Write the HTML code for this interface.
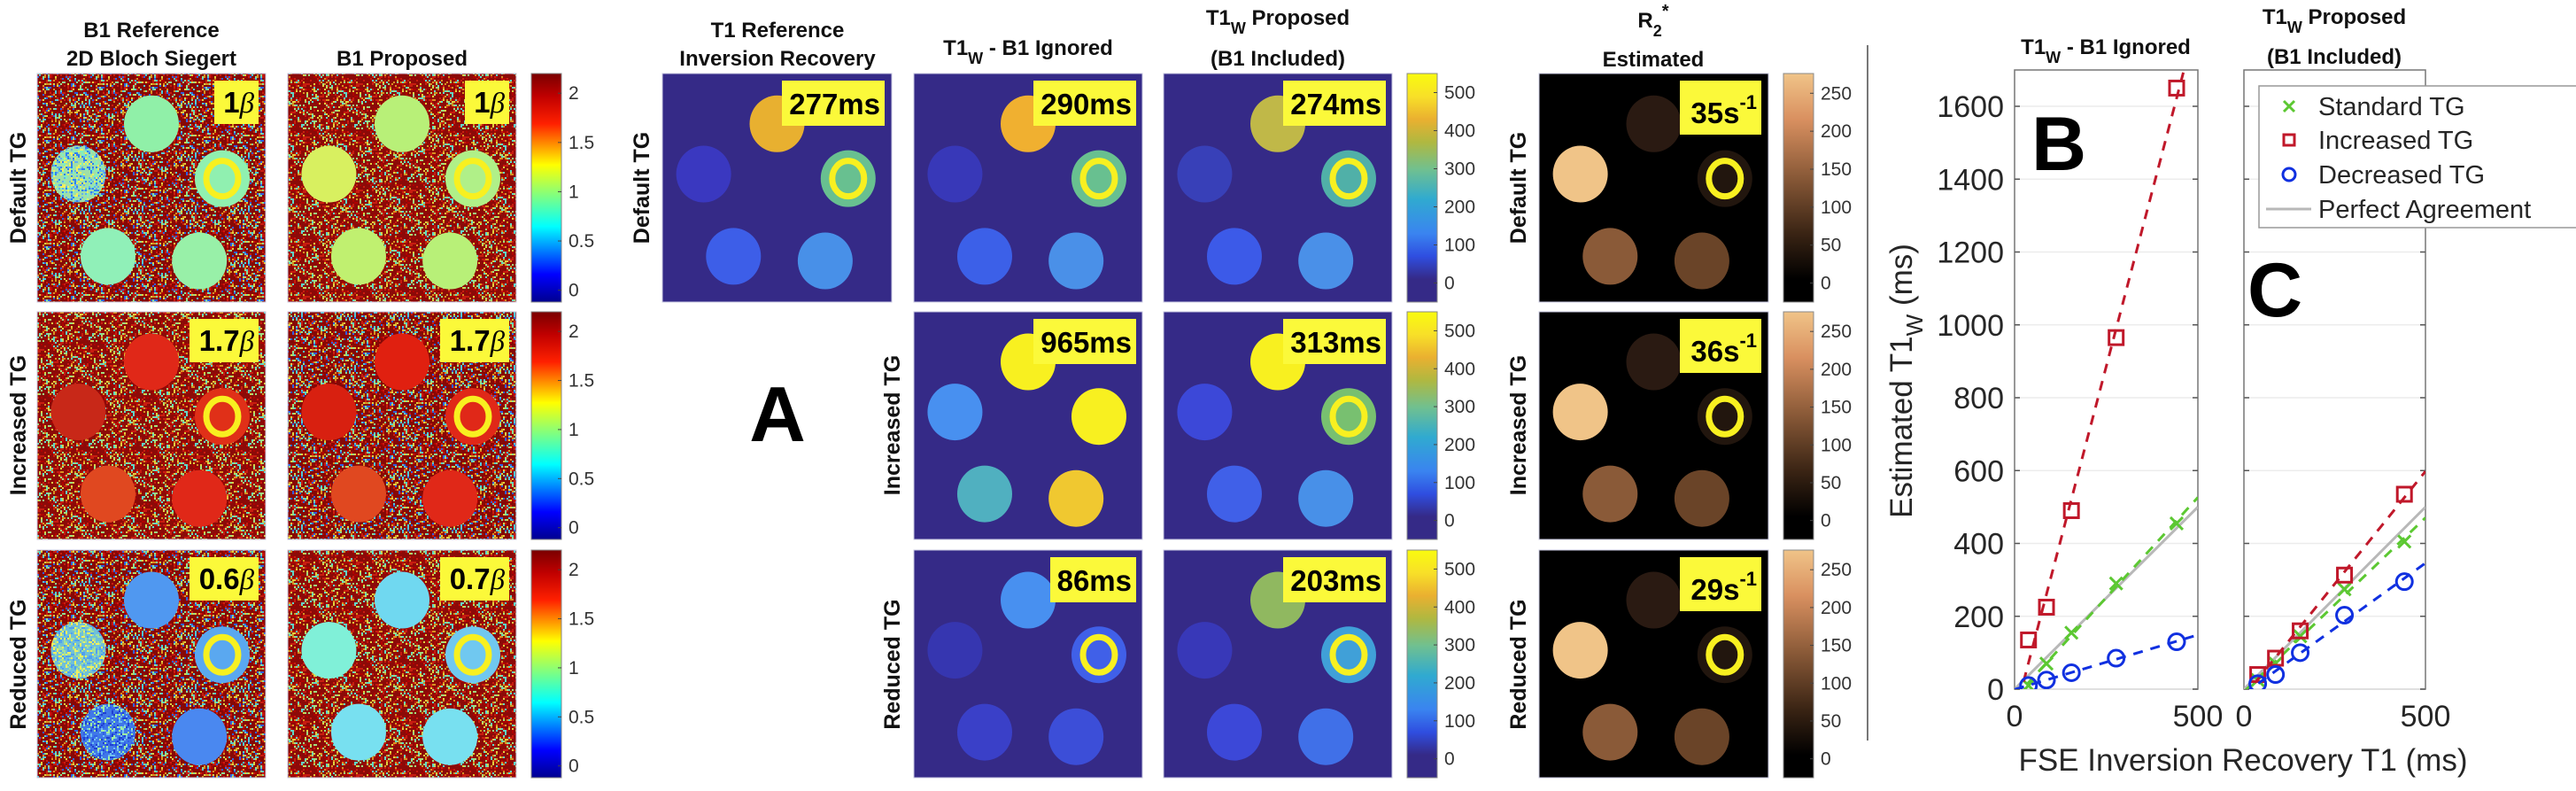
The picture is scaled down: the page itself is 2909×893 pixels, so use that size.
<!DOCTYPE html>
<html><head><meta charset="utf-8">
<style>
html,body{margin:0;padding:0;background:#fff;}
#fig{position:absolute;left:0;top:0;width:2909px;height:893px;}
svg text{font-family:"Liberation Sans",sans-serif;}
</style></head>
<body>
<svg id="fig" xmlns="http://www.w3.org/2000/svg" width="2909" height="893" viewBox="0 0 2909 893">
<defs id="defs">
 <linearGradient id="jet" x1="0" y1="1" x2="0" y2="0">
  <stop offset="0" stop-color="#00008f"/><stop offset="0.12" stop-color="#0000ff"/><stop offset="0.33" stop-color="#00ffff"/><stop offset="0.5" stop-color="#a0ff60"/><stop offset="0.6" stop-color="#ffff00"/><stop offset="0.78" stop-color="#ff2000"/><stop offset="0.9" stop-color="#c00000"/><stop offset="1" stop-color="#7a0000"/>
 </linearGradient>
 <linearGradient id="parula" x1="0" y1="1" x2="0" y2="0">
  <stop offset="0" stop-color="#352a87"/><stop offset="0.1" stop-color="#352a87"/><stop offset="0.2" stop-color="#2f4ee0"/><stop offset="0.3" stop-color="#3a84f0"/><stop offset="0.45" stop-color="#30aad0"/><stop offset="0.58" stop-color="#70c090"/><stop offset="0.7" stop-color="#b0b840"/><stop offset="0.8" stop-color="#eab030"/><stop offset="0.9" stop-color="#f8e028"/><stop offset="1" stop-color="#f9fb0e"/>
 </linearGradient>
 <linearGradient id="copper" x1="0" y1="1" x2="0" y2="0">
  <stop offset="0" stop-color="#000"/><stop offset="0.1" stop-color="#000"/><stop offset="0.3" stop-color="#3a2414"/><stop offset="0.55" stop-color="#8a5a38"/><stop offset="0.8" stop-color="#d99060"/><stop offset="1" stop-color="#f0c488"/>
 </linearGradient>
 <clipPath id="clipB"><rect x="2275" y="79" width="207" height="699"/></clipPath>
 <clipPath id="clipC"><rect x="2534" y="79" width="205" height="699"/></clipPath>
</defs>
<g id="layer"></g>
</svg>
<script>
// ---- chart data (panels B and C) ----
const refT1 = [38, 87, 155, 277, 442];
const ignoredStandard = [10, 70, 155, 290, 455];
const ignoredIncreased = [135, 225, 490, 965, 1650];
const ignoredDecreased = [10, 25, 45, 85, 130];
const proposedStandard = [25, 70, 145, 274, 405];
const proposedIncreased = [40, 85, 160, 313, 535];
const proposedDecreased = [15, 40, 100, 203, 295];
const yTicks = [0, 200, 400, 600, 800, 1000, 1200, 1400, 1600];
const xTicks = [0, 500];
const legendLabels = ["Standard TG", "Increased TG", "Decreased TG", "Perfect Agreement"];
// image panel labels
const b1RefLabels = ["1", "1.7", "0.6"];
const b1PropLabels = ["1", "1.7", "0.7"];
const t1Labels = ["277ms", "290ms", "965ms", "86ms", "274ms", "313ms", "203ms"];
const r2Labels = ["35", "36", "29"];
const jetTicks = ["2", "1.5", "1", "0.5", "0"];
const parulaTicks = ["500", "400", "300", "200", "100", "0"];
const copperTicks = ["250", "200", "150", "100", "50", "0"];

const NS = "http://www.w3.org/2000/svg";
const defs = document.getElementById('defs');
const L = document.getElementById('layer');
function mk(tag, attrs, parent) {
  const e = document.createElementNS(NS, tag);
  for (const k in attrs) e.setAttribute(k, attrs[k]);
  (parent || L).appendChild(e);
  return e;
}
function txt(x, y, s, size, weight, anchor, parent) {
  const t = mk('text', {x: x, y: y, 'font-size': size, 'font-weight': weight || 'normal', 'text-anchor': anchor || 'start', fill: '#111'}, parent);
  t.textContent = s;
  return t;
}

// seeded noise patterns for B1 maps (texture only)
let seed = 12345;
function rnd() { seed = (seed * 1103515245 + 12345) % 2147483648; return seed / 2147483648; }
function noisePattern(id, base, pal, prob, c) {
  c = c || 2;
  const n = 30;
  const p = mk('pattern', {id: id, x: 0, y: 0, width: n * c, height: n * c, patternUnits: 'userSpaceOnUse'}, defs);
  mk('rect', {x: 0, y: 0, width: n * c, height: n * c, fill: base}, p);
  for (let i = 0; i < n; i++) for (let j = 0; j < n; j++) {
    if (rnd() < prob) mk('rect', {x: i * c, y: j * c, width: c, height: c, fill: pal[Math.floor(rnd() * pal.length)]}, p);
  }
}
noisePattern('nz1', '#860806', ['#c81c10', '#c81c10', '#e0d040', '#d89020', '#50c8d8', '#90e090', '#b00000', '#3060e0'], 0.45);
noisePattern('nz2', '#8c0a08', ['#c81c10', '#c81c10', '#e0d040', '#d89020', '#60d8c8', '#b00000', '#a0e080'], 0.42);
noisePattern('nzc1', '#a0e0a8', ['#60b0f0', '#f0f060', '#80f0c0', '#3080f0'], 0.5);
noisePattern('nzc2', '#4078e8', ['#2040d0', '#70c0f0', '#a0f0a0', '#3060e8'], 0.5);
noisePattern('nzc3', '#70c0d8', ['#f0f060', '#50a0f0', '#a0e0a0'], 0.5);

// phantom geometry (relative to panel)
const spots = [[0.5, 0.22], [0.18, 0.44], [0.81, 0.46], [0.31, 0.80], [0.71, 0.82]];
function panel(x, y, w, h, bg, cols, ringIdx, ringFill, name) {
  const g = mk('g', {});
  
  
  mk('rect', {x: x, y: y, width: w, height: h, fill: bg, stroke: '#c8c8e0', 'stroke-width': 1}, g);
  spots.forEach((s, i) => {
    const cx = x + s[0] * w, cy = y + s[1] * h;
    mk('ellipse', {cx: cx, cy: cy, rx: 31, ry: 32, fill: cols[i]}, g);
    if (i === ringIdx) {
      mk('ellipse', {cx: cx, cy: cy, rx: 18, ry: 20, fill: 'none', stroke: '#f8f020', 'stroke-width': 7}, g);
    }
  });
  return g;
}
function labelBox(x1, y1, x2, y2, s, sup, beta, name) {
  const g = mk('g', {});
  
  
  mk('rect', {x: x1, y: y1, width: x2 - x1, height: y2 - y1, fill: '#fbf93a'}, g);
  const t = mk('text', {x: x2 - 5, y: y2 - 13, 'font-size': 33, 'font-weight': 'bold', 'text-anchor': 'end', fill: '#000'}, g);
  t.textContent = s;
  if (beta) { const b = mk('tspan', {'font-style': 'italic', 'font-weight': 'normal', 'font-family': 'Liberation Serif'}, t); b.textContent = 'β'; }
  if (sup) { const b = mk('tspan', {'font-size': 22, dy: -16}, t); b.textContent = sup; }
}
function colorbar(x, y, w, h, grad, ticks, vTop, vBot, vals, name) {
  const g = mk('g', {});
  
  
  mk('rect', {x: x, y: y, width: w, height: h, fill: 'url(#' + grad + ')', stroke: '#888', 'stroke-width': 1}, g);
  ticks.forEach((s, i) => {
    const v = vals[i];
    const ty = y + (vTop - v) / (vTop - vBot) * h;
    mk('line', {x1: x + w - 4, x2: x + w, y1: ty, y2: ty, stroke: '#444', 'stroke-width': 1}, g);
    const t = txt(x + w + 8, ty + 7, s, 21, 'normal', 'start', g);
    t.setAttribute('fill', '#333');
  });
}
function rowLabel(cx, cy, s, name) {
  const t = mk('text', {x: 0, y: 0, 'font-size': 25, 'font-weight': 'bold', 'text-anchor': 'middle', fill: '#111', transform: 'translate(' + cx + ',' + cy + ') rotate(-90)'});
  t.textContent = s;
  
  
}
const rows = [[83, 258], [352, 257], [621, 257]];

// ---------- B1 maps ----------
let t;
t = txt(171, 42, 'B1 Reference', 24, 'bold', 'middle');  
t = txt(171, 74, '2D Bloch Siegert', 24, 'bold', 'middle');  
t = txt(454, 74, 'B1 Proposed', 24, 'bold', 'middle');  
const b1RefCols = [
  ['#90f0a8', 'url(#nzc1)', '#90f0b0', '#90f0b8', '#98f0a8'],
  ['#e02818', '#c82818', '#e03018', '#e04820', '#e02818'],
  ['#5098f0', 'url(#nzc3)', '#5aa8f0', 'url(#nzc2)', '#4a88f0']];
const b1PropCols = [
  ['#b8f078', '#d8f060', '#b0f088', '#c0f070', '#b8f078'],
  ['#e02010', '#d82010', '#e02818', '#e04820', '#e02818'],
  ['#70d8f0', '#80f0d8', '#70c8f0', '#78e0f0', '#78e0f0']];
const b1Names = ['default', 'increased', 'reduced'];
rows.forEach((r, i) => {
  panel(42, r[0], 258, r[1], 'url(#nz' + (i % 2 + 1) + ')', b1RefCols[i], 2, '', 'b1-reference-map-' + b1Names[i]);
  panel(325, r[0], 258, r[1], 'url(#nz' + ((i + 1) % 2 + 1) + ')', b1PropCols[i], 2, '', 'b1-proposed-map-' + b1Names[i]);
  const w1 = b1RefLabels[i].length > 1 ? 214 : 242;
  const w2 = b1PropLabels[i].length > 1 ? 497 : 525;
  labelBox(w1, r[0] + 8, 292, r[0] + 57, b1RefLabels[i], '', true, 'b1-reference-value-' + b1Names[i]);
  labelBox(w2, r[0] + 8, 575, r[0] + 57, b1PropLabels[i], '', true, 'b1-proposed-value-' + b1Names[i]);
  colorbar(600, r[0], 34, r[1], 'jet', jetTicks, 2.2, -0.12, [2, 1.5, 1, 0.5, 0], 'b1-colorbar-' + b1Names[i]);
});
rowLabel(29, 212, 'Default TG', 'row-label-default-b1');
rowLabel(29, 480, 'Increased TG', 'row-label-increased-b1');
rowLabel(29, 750, 'Reduced TG', 'row-label-reduced-b1');

// ---------- T1 maps ----------
t = txt(878, 42, 'T1 Reference', 24, 'bold', 'middle');  
t = txt(878, 74, 'Inversion Recovery', 24, 'bold', 'middle');  
function t1wTitle(cx, y, rest, name) {
  const tt = mk('text', {x: cx, y: y, 'font-size': 24, 'font-weight': 'bold', 'text-anchor': 'middle', fill: '#111'});
  
  
  const a = mk('tspan', {}, tt); a.textContent = 'T1';
  const b = mk('tspan', {dy: 10, 'font-size': 18}, tt); b.textContent = 'W';
  const c = mk('tspan', {dy: -10}, tt); c.textContent = rest;
}
t1wTitle(1161, 62, ' - B1 Ignored', 't1w-ignored-title');
t1wTitle(1443, 28, ' Proposed', 't1w-proposed-title');
t = txt(1443, 74, '(B1 Included)', 24, 'bold', 'middle');  
const BG = '#352a87';
panel(748, 83, 259, 258, BG, ['#e8b030', '#3a38c0', '#68c090', '#3d5ee8', '#4890e8'], 2, '', 't1-reference-map');
labelBox(883, 91, 999, 142, t1Labels[0], '', false, 't1-reference-value');
const col2Cols = [
  ['#f0b030', '#3838b8', '#68c090', '#3c60e8', '#4a90e8'],
  ['#f8f020', '#4890f0', '#f8f020', '#50b0c0', '#f0c830'],
  ['#4890f0', '#3636b0', '#4060e8', '#3a40c8', '#3c4ed8']];
const col3Cols = [
  ['#c0b848', '#3840b8', '#50b0a8', '#3c5ae8', '#4a90e8'],
  ['#f8f020', '#3c48d8', '#78c070', '#4060e8', '#4890e8'],
  ['#90b860', '#3838b8', '#40a0d8', '#3c48d8', '#4070e8']];
const rowNames = ['default', 'increased', 'reduced'];
rows.forEach((r, i) => {
  panel(1032, r[0], 258, r[1], BG, col2Cols[i], i === 1 ? -1 : 2, '', 't1w-ignored-map-' + rowNames[i]);
  panel(1314, r[0], 258, r[1], BG, col3Cols[i], 2, '', 't1w-proposed-map-' + rowNames[i]);
  const l2 = t1Labels[1 + i], l3 = t1Labels[4 + i];
  labelBox(l2.length > 4 ? 1167 : 1186, r[0] + 8, 1283, r[0] + 59, l2, '', false, 't1w-ignored-value-' + rowNames[i]);
  labelBox(1449, r[0] + 8, 1565, r[0] + 59, l3, '', false, 't1w-proposed-value-' + rowNames[i]);
  colorbar(1589, r[0], 34, r[1], 'parula', parulaTicks, 550, -50, [500, 400, 300, 200, 100, 0], 't1-colorbar-' + rowNames[i]);
  panel(1738, r[0], 259, r[1], '#000', ['#2a1a12', '#f0c488', '#22160e', '#8a5a38', '#6a4428'], 2, '', 'r2-map-' + rowNames[i]);
  labelBox(1897, r[0] + 8, 1989, r[0] + 69, r2Labels[i] + 's', '-1', false, 'r2-value-' + rowNames[i]);
  colorbar(2014, r[0], 34, r[1], 'copper', copperTicks, 276, -25, [250, 200, 150, 100, 50, 0], 'r2-colorbar-' + rowNames[i]);
});
rowLabel(733, 212, 'Default TG', 'row-label-default-t1');
rowLabel(1016, 480, 'Increased TG', 'row-label-increased-t1');
rowLabel(1016, 750, 'Reduced TG', 'row-label-reduced-t1');
rowLabel(1723, 212, 'Default TG', 'row-label-default-r2');
rowLabel(1723, 480, 'Increased TG', 'row-label-increased-r2');
rowLabel(1723, 750, 'Reduced TG', 'row-label-reduced-r2');
t = txt(878, 498, 'A', 88, 'bold', 'middle');   t.setAttribute('fill', '#000');
// R2* title
t = mk('text', {x: 1867, y: 31, 'font-size': 24, 'font-weight': 'bold', 'text-anchor': 'middle', fill: '#111'});
 
{ const a = mk('tspan', {}, t); a.textContent = 'R'; const b = mk('tspan', {dy: 10, 'font-size': 18}, t); b.textContent = '2'; const c = mk('tspan', {dy: -22, 'font-size': 20}, t); c.textContent = '*'; }
t = txt(1867, 75, 'Estimated', 24, 'bold', 'middle');  
// separator
t = mk('line', {x1: 2109, x2: 2109, y1: 51, y2: 836, stroke: '#777', 'stroke-width': 2});
 

// ---------- scatter charts B and C ----------
const Y0 = 778, YPX = 82.25 / 200;
function yS(v) { return Y0 - v * YPX; }
function xSB(v) { return 2275 + v / 500 * 207; }
function xSC(v) { return 2534 + v / 500 * 205; }
function fit(xs, ys) {
  const n = xs.length; let sx = 0, sy = 0, sxx = 0, sxy = 0;
  for (let i = 0; i < n; i++) { sx += xs[i]; sy += ys[i]; sxx += xs[i] * xs[i]; sxy += xs[i] * ys[i]; }
  const m = (n * sxy - sx * sy) / (n * sxx - sx * sx); return [m, (sy - m * sx) / n];
}
const GREEN = '#5cc832', RED = '#c0182a', BLUE = '#1030e0';
function axes(xS, x0, x1, clip, name, showY) {
  const g = mk('g', {});
  
  
  mk('rect', {x: x0, y: 79, width: x1 - x0, height: Y0 - 79, fill: '#fff', stroke: '#777', 'stroke-width': 1.5}, g);
  yTicks.forEach(v => {
    const y = yS(v);
    mk('line', {x1: x0, x2: x1, y1: y, y2: y, stroke: '#ececec', 'stroke-width': 1.5}, g);
    mk('line', {x1: x0, x2: x0 + 6, y1: y, y2: y, stroke: '#555', 'stroke-width': 1.5}, g);
    mk('line', {x1: x1 - 6, x2: x1, y1: y, y2: y, stroke: '#555', 'stroke-width': 1.5}, g);
    if (showY) { const tt = txt(x0 - 12, y + 12, String(v), 34, 'normal', 'end', g); tt.setAttribute('fill', '#262626'); }
  });
  xTicks.forEach(v => {
    const tt = txt(xS(v), 820, String(v), 34, 'normal', 'middle', g); tt.setAttribute('fill', '#262626');
  });
  return g;
}
function series(xS, ys, color, marker, clip, name) {
  const g = mk('g', {'clip-path': 'url(#' + clip + ')'});
  
  
  const f = fit(refT1, ys);
  mk('line', {x1: xS(0), y1: yS(f[1]), x2: xS(500), y2: yS(f[1] + f[0] * 500), stroke: color, 'stroke-width': 3, 'stroke-dasharray': '11 9'}, g);
  refT1.forEach((xv, i) => {
    const cx = xS(xv), cy = yS(ys[i]);
    let m;
    if (marker === 'x') {
      m = mk('path', {d: 'M' + (cx - 7) + ' ' + (cy - 7) + 'L' + (cx + 7) + ' ' + (cy + 7) + 'M' + (cx - 7) + ' ' + (cy + 7) + 'L' + (cx + 7) + ' ' + (cy - 7), stroke: color, 'stroke-width': 3, fill: 'none'}, g);
    } else if (marker === 's') {
      m = mk('rect', {x: cx - 8, y: cy - 8, width: 16, height: 16, stroke: color, 'stroke-width': 3, fill: 'none'}, g);
    } else {
      m = mk('circle', {cx: cx, cy: cy, r: 9, stroke: color, 'stroke-width': 3, fill: 'none'}, g);
    }
    
    
  });
}
function identity(xS, clip, name) {
  const l = mk('line', {x1: xS(0), y1: yS(0), x2: xS(500), y2: yS(500), stroke: '#b8b8b8', 'stroke-width': 3, 'clip-path': 'url(#' + clip + ')'});
  
  
}
axes(xSB, 2275, 2482, 'clipB', 'axes-b', true);
identity(xSB, 'clipB', 'perfect-agreement-b');
series(xSB, ignoredStandard, GREEN, 'x', 'clipB', 'series-standard-b');
series(xSB, ignoredIncreased, RED, 's', 'clipB', 'series-increased-b');
series(xSB, ignoredDecreased, BLUE, 'o', 'clipB', 'series-decreased-b');
axes(xSC, 2534, 2739, 'clipC', 'axes-c', false);
identity(xSC, 'clipC', 'perfect-agreement-c');
series(xSC, proposedStandard, GREEN, 'x', 'clipC', 'series-standard-c');
series(xSC, proposedIncreased, RED, 's', 'clipC', 'series-increased-c');
series(xSC, proposedDecreased, BLUE, 'o', 'clipC', 'series-decreased-c');
t1wTitle(2378, 61, ' - B1 Ignored', 'chart-b-title');
t1wTitle(2636, 27, ' Proposed', 'chart-c-title');
t = txt(2636, 72, '(B1 Included)', 24, 'bold', 'middle');  
t = txt(2294, 192, 'B', 86, 'bold', 'start');  t.setAttribute('fill', '#000'); 
t = txt(2569, 357, 'C', 86, 'bold', 'middle');  t.setAttribute('fill', '#000'); 
// y label
t = mk('text', {x: 0, y: 0, 'font-size': 35, 'text-anchor': 'middle', fill: '#262626', transform: 'translate(2159,430) rotate(-90)'});
 
{ const a = mk('tspan', {}, t); a.textContent = 'Estimated T1'; const b = mk('tspan', {dy: 12, 'font-size': 26}, t); b.textContent = 'W'; const c = mk('tspan', {dy: -12}, t); c.textContent = ' (ms)'; }
t = txt(2533, 870, 'FSE Inversion Recovery T1 (ms)', 35, 'normal', 'middle'); t.setAttribute('fill', '#262626');
 
// legend
const lg = mk('g', {});


mk('rect', {x: 2551, y: 97, width: 400, height: 160, fill: '#fff', stroke: '#999', 'stroke-width': 1.5}, lg);
const lys = [120, 158, 197, 236];
legendLabels.forEach((s, i) => {
  const y = lys[i];
  if (i === 0) mk('path', {d: 'M2579 ' + (y - 6) + 'L2591 ' + (y + 6) + 'M2579 ' + (y + 6) + 'L2591 ' + (y - 6), stroke: GREEN, 'stroke-width': 3}, lg);
  if (i === 1) mk('rect', {x: 2579, y: y - 6, width: 12, height: 12, stroke: RED, 'stroke-width': 3, fill: 'none'}, lg);
  if (i === 2) mk('circle', {cx: 2585, cy: y, r: 7, stroke: BLUE, 'stroke-width': 3, fill: 'none'}, lg);
  if (i === 3) mk('line', {x1: 2559, x2: 2610, y1: y, y2: y, stroke: '#b8b8b8', 'stroke-width': 3}, lg);
  const e = txt(2618, y + 10, s, 29, 'normal', 'start', lg);
  e.setAttribute('fill', '#262626');
  
  
});
</script>
</body></html>
